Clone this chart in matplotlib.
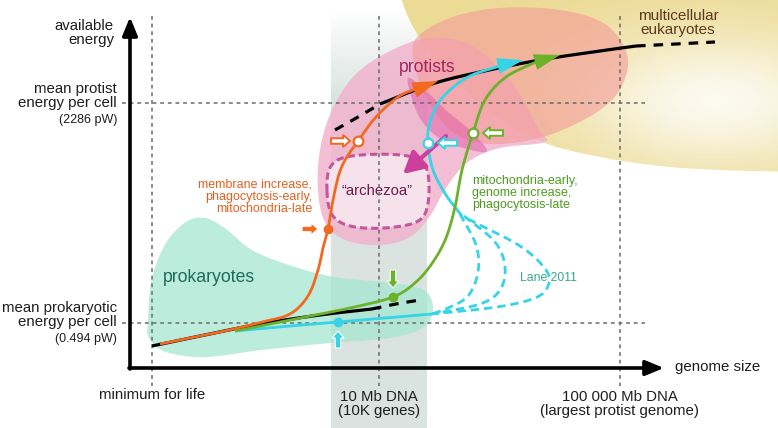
import numpy as np
import matplotlib
matplotlib.use("Agg")
import matplotlib.pyplot as plt
from matplotlib.patches import Polygon, FancyArrow

plt.rcParams["font.family"] = ["Liberation Sans", "DejaVu Sans"]

# ---- schematic data (picture coordinates, y grows downwards) ----
y_labels = ["available\nenergy", "mean protist\nenergy per cell", "mean prokaryotic\nenergy per cell"]
y_units = ["(2286 pW)", "(0.494 pW)"]
x_labels = ["minimum for life", "10 Mb DNA\n(10K genes)", "100 000 Mb DNA\n(largest protist genome)"]
x_marks = [152, 379, 620]
y_marks = [103, 323]

black_low = [(152, 346), (200, 336), (260, 324), (320, 315), (372, 309)]
black_low_dash = [(372, 309), (396, 304), (420, 300)]
black_high_dash = [(335, 130), (358, 117), (380, 104)]
black_high = [(380, 104), (432, 84), (480, 72), (540, 60), (600, 51), (636, 46)]
black_tail_dash = [(636, 46), (676, 44), (715, 42)]

orange_path = [(160, 344), (220, 332), (262, 322), (290, 314), (308, 296), (318, 270),
               (323, 248), (328, 229), (334, 195), (342, 166), (358, 141), (376, 117), (398, 97), (418, 88)]
green_path = [(235, 331), (300, 318), (350, 308), (393, 297), (416, 282), (433, 262), (446, 238),
              (455, 207), (462, 170), (473, 133), (485, 100), (506, 77), (536, 62)]
cyan_low = [(235, 331), (290, 326), (338, 322), (385, 318), (432, 314)]
cyan_high = [(462, 216), (446, 195), (433, 170), (428, 143), (430, 122), (442, 98), (468, 77), (500, 66)]
lane_a = [(460, 214), (476, 245), (478, 272), (468, 296), (448, 308), (432, 314)]
lane_b = [(464, 216), (495, 242), (505, 267), (500, 290), (480, 304), (432, 314)]
lane_c = [(468, 219), (520, 246), (546, 270), (548, 286), (535, 298), (497, 307), (432, 314)]

tips = {"orange": ((414, 90), (438, 81)), "cyan": ((498, 66), (523, 60)), "green": ((535, 62), (560, 55))}

prok_blob = [(148, 320), (152, 278), (166, 243), (186, 222), (205, 218), (226, 229), (252, 250),
             (292, 266), (335, 277), (392, 283), (424, 290), (433, 308), (424, 327), (390, 338),
             (330, 343), (262, 350), (205, 357), (166, 352), (149, 338)]
protist_blob = [(318, 190), (320, 150), (332, 110), (356, 74), (392, 50), (430, 38), (470, 45),
                (510, 80), (538, 128), (545, 142), (500, 148), (468, 162), (446, 188), (430, 216),
                (410, 237), (380, 245), (345, 240), (325, 222)]
salmon_blob = [(415, 40), (450, 18), (500, 8), (560, 10), (605, 24), (627, 54), (622, 86),
               (600, 110), (560, 131), (520, 142), (480, 143), (450, 130), (428, 100), (416, 70)]
yellow_edge = [(800, 172), (720, 170), (660, 166), (600, 157), (545, 143), (500, 118), (465, 90),
               (436, 60), (412, 25), (398, -10)]
yellow_corners = [(398, -20), (800, -20)]
wedge = [(408, 78), (413, 102), (424, 124), (446, 142), (486, 152), (472, 132), (448, 112), (425, 90)]
archezoa = [(327, 191), (331, 166), (352, 156), (400, 155), (424, 164), (429, 192), (422, 218),
            (395, 227), (355, 227), (333, 216)]

ORANGE = "#f26a21"
GREEN = "#6bb22a"
CYAN = "#35d4e6"
MAGENTA = "#bf4d98"
GRID = "#6b6b6b"


def smooth(pts, n=24, closed=False):
    p = np.asarray(pts, float)
    if closed:
        p = np.vstack([p[-1], p, p[0], p[1]])
    else:
        p = np.vstack([2 * p[0] - p[1], p, 2 * p[-1] - p[-2]])
    t = np.linspace(0, 1, n, endpoint=False)[:, None]
    out = []
    for i in range(1, len(p) - 2):
        p0, p1, p2, p3 = p[i - 1], p[i], p[i + 1], p[i + 2]
        out.append(0.5 * (2 * p1 + (-p0 + p2) * t + (2 * p0 - 5 * p1 + 4 * p2 - p3) * t ** 2
                          + (-p0 + 3 * p1 - 3 * p2 + p3) * t ** 3))
    out.append(p[-2][None])
    return np.vstack(out)


def curve(ax, pts, color, lw=2.0, z=6, dashes=None):
    c = smooth(pts)
    line, = ax.plot(c[:, 0], c[:, 1], color=color, lw=lw, zorder=z, solid_capstyle="butt")
    if dashes:
        line.set_dashes(dashes)
    return line


def head(ax, base, tip, color, w=7.5, z=7):
    b, t = np.array(base, float), np.array(tip, float)
    d = t - b
    nrm = np.array([-d[1], d[0]]) / np.hypot(*d)
    ax.add_patch(Polygon([t, b + nrm * w, b - nrm * w], closed=True, fc=color, ec="none", zorder=z))


def blob(ax, pts, **kw):
    return ax.add_patch(Polygon(smooth(pts, closed=True), closed=True, **kw))


fig = plt.figure(figsize=(7.78, 4.28), dpi=100)
ax = fig.add_axes([0, 0, 1, 1])
ax.axis("off")

# gray band around 10 Mb
band = np.zeros((200, 1, 4))
band[..., :3] = matplotlib.colors.to_rgb("#d5dfdc")
band[:, 0, 3] = np.clip(np.linspace(0, 4.0, 200), 0, 0.85)
ax.imshow(band, extent=[331, 427, 428, 8], aspect="auto", interpolation="bilinear", zorder=1)

# yellow region with light centre
yy, xx = np.mgrid[0:428, 0:778]
g = np.exp(-(((xx - 715) / 150.0) ** 2 + ((yy - 100) / 70.0) ** 2))
ycol = np.array(matplotlib.colors.to_rgb("#ecdb95"))
img = np.ones((428, 778, 4))
img[..., :3] = ycol * (1 - 0.85 * g[..., None]) + 0.85 * g[..., None]
im = ax.imshow(img, extent=[0, 778, 428, 0], zorder=1.2, interpolation="bilinear")
yp = ax.add_patch(Polygon(np.vstack([smooth(yellow_edge), yellow_corners]), closed=True,
                          fc="none", ec="none"))
im.set_clip_path(yp)

blob(ax, protist_blob, fc="#f2b0cb", ec="none", alpha=0.8, zorder=2)
blob(ax, salmon_blob, fc="#f49a98", ec="none", alpha=0.6, zorder=2.2)
blob(ax, wedge, fc="#dd5aa8", ec="none", alpha=0.5, zorder=2.4)
blob(ax, prok_blob, fc="#a6e6d1", ec="none", alpha=0.75, zorder=2)
blob(ax, archezoa, fc="#f7e6ee", ec=MAGENTA, lw=2.2, ls=(0, (2.4, 1.3)), alpha=0.92, zorder=3)

# reference grid lines
for xm in x_marks:
    ax.plot([xm, xm], [16, 386], color=GRID, lw=1.1, ls=(0, (2.5, 2.5)), zorder=4)
for ym in y_marks:
    ax.plot([122, 645], [ym, ym], color=GRID, lw=1.1, ls=(0, (2.5, 2.5)), zorder=4)

# axes
ax.annotate("", xy=(130, 17), xytext=(130, 369),
            arrowprops=dict(arrowstyle="-|>,head_length=1.1,head_width=0.45", lw=2.6, color="black",
                            shrinkA=0, shrinkB=0), zorder=5)
ax.annotate("", xy=(664, 368), xytext=(129, 368),
            arrowprops=dict(arrowstyle="-|>,head_length=1.1,head_width=0.45", lw=2.6, color="black",
                            shrinkA=0, shrinkB=0), zorder=5)

# black reference curves
curve(ax, black_low, "black", lw=2.3, z=5)
curve(ax, black_low_dash, "black", lw=2.3, z=5, dashes=(3, 2.5))
curve(ax, black_high_dash, "black", lw=2.3, z=5, dashes=(3, 2.5))
curve(ax, black_high, "black", lw=2.3, z=5)
curve(ax, black_tail_dash, "black", lw=2.3, z=5, dashes=(3, 2.5))

# trajectories
curve(ax, lane_a, CYAN, lw=2.0, dashes=(3, 1.8))
curve(ax, lane_b, CYAN, lw=2.0, dashes=(3, 1.8))
curve(ax, lane_c, CYAN, lw=2.0, dashes=(3, 1.8))
curve(ax, cyan_low, CYAN, lw=2.0)
curve(ax, cyan_high, CYAN, lw=2.0)
curve(ax, green_path, GREEN, lw=2.0)
curve(ax, orange_path, ORANGE, lw=2.0)
for name, col in [("orange", ORANGE), ("cyan", CYAN), ("green", GREEN)]:
    head(ax, tips[name][0], tips[name][1], col, w=8)

# magenta arrow into "archezoa"
ax.annotate("", xy=(403, 174), xytext=(446, 136),
            arrowprops=dict(arrowstyle="-|>,head_length=1.3,head_width=0.7", lw=3, color="#cc3f9c",
                            shrinkA=0, shrinkB=0), zorder=6.5)

# markers on the trajectories
ax.plot(328, 229, "o", ms=6, mfc=ORANGE, mec=ORANGE, zorder=8)
ax.plot(393, 297, "o", ms=6, mfc=GREEN, mec=GREEN, zorder=8)
ax.plot(338, 322, "o", ms=6, mfc=CYAN, mec=CYAN, zorder=8)
ax.plot(358, 141, "o", ms=7, mfc="white", mec=ORANGE, mew=1.6, zorder=8)
ax.plot(428, 143, "o", ms=7, mfc="white", mec=CYAN, mew=1.6, zorder=8)
ax.plot(473, 133, "o", ms=7, mfc="white", mec=GREEN, mew=1.6, zorder=8)

arrow_kw = dict(width=5.5, head_width=12, head_length=7, length_includes_head=True, zorder=8)
ax.add_patch(FancyArrow(302, 229, 16, 0, fc=ORANGE, ec="white", lw=0.8, **arrow_kw))
ax.add_patch(FancyArrow(331, 141, 19, 0, fc="white", ec=ORANGE, lw=1.4, **arrow_kw))
ax.add_patch(FancyArrow(457, 143, -19, 0, fc="white", ec=CYAN, lw=1.4, **arrow_kw))
ax.add_patch(FancyArrow(503, 133, -20, 0, fc="white", ec=GREEN, lw=1.4, **arrow_kw))
ax.add_patch(FancyArrow(393, 270, 0, 18, fc=GREEN, ec="white", lw=0.8, **arrow_kw))
ax.add_patch(FancyArrow(338, 348, 0, -17, fc=CYAN, ec="white", lw=0.8, **arrow_kw))

# axis texts
dark = "#1e1e1e"
ax.text(114, 33, y_labels[0], ha="right", va="center", fontsize=10.8, color=dark, linespacing=1.05)
ax.text(117, 96, y_labels[1], ha="right", va="center", fontsize=10.8, color=dark, linespacing=1.05)
ax.text(117, 120, y_units[0], ha="right", va="center", fontsize=9, color=dark)
ax.text(117, 315, y_labels[2], ha="right", va="center", fontsize=10.8, color=dark, linespacing=1.05)
ax.text(117, 339, y_units[1], ha="right", va="center", fontsize=9, color=dark)
ax.text(x_marks[0], 395, x_labels[0], ha="center", va="center", fontsize=10.8, color=dark)
ax.text(x_marks[1], 404, x_labels[1], ha="center", va="center", fontsize=10.8, color=dark, linespacing=1.05)
ax.text(x_marks[2], 404, x_labels[2], ha="center", va="center", fontsize=10.8, color=dark, linespacing=1.05)
ax.text(675, 367, "genome size", ha="left", va="center", fontsize=10.8, color=dark)

# region and path labels
ax.text(678, 23, "multicellular\neukaryotes", ha="center", va="center", fontsize=11, color="#5b3a1e", linespacing=1.05)
ax.text(427, 67, "protists", ha="center", va="center", fontsize=12.7, color="#a3275f")
ax.text(377, 191, "\u201carchezoa\u201d", ha="center", va="center", fontsize=10.7, color="#6d1a4c")
ax.text(209, 278, "prokaryotes", ha="center", va="center", fontsize=12.7, color="#1f6b5c")
ax.text(548, 278, "Lane 2011", ha="center", va="center", fontsize=8.8, color="#3aa68f")
ax.text(312, 197, "membrane increase,\nphagocytosis-early,\nmitochondria-late", ha="right", va="center",
        fontsize=9, color="#e0611f", linespacing=1.02)
ax.text(472, 193, "mitochondria-early,\ngenome increase,\nphagocytosis-late", ha="left", va="center",
        fontsize=9, color="#4f9b1f", linespacing=1.02)

ax.set_xlim(0, 778)
ax.set_ylim(428, 0)
fig.savefig("out.png", dpi=100)
